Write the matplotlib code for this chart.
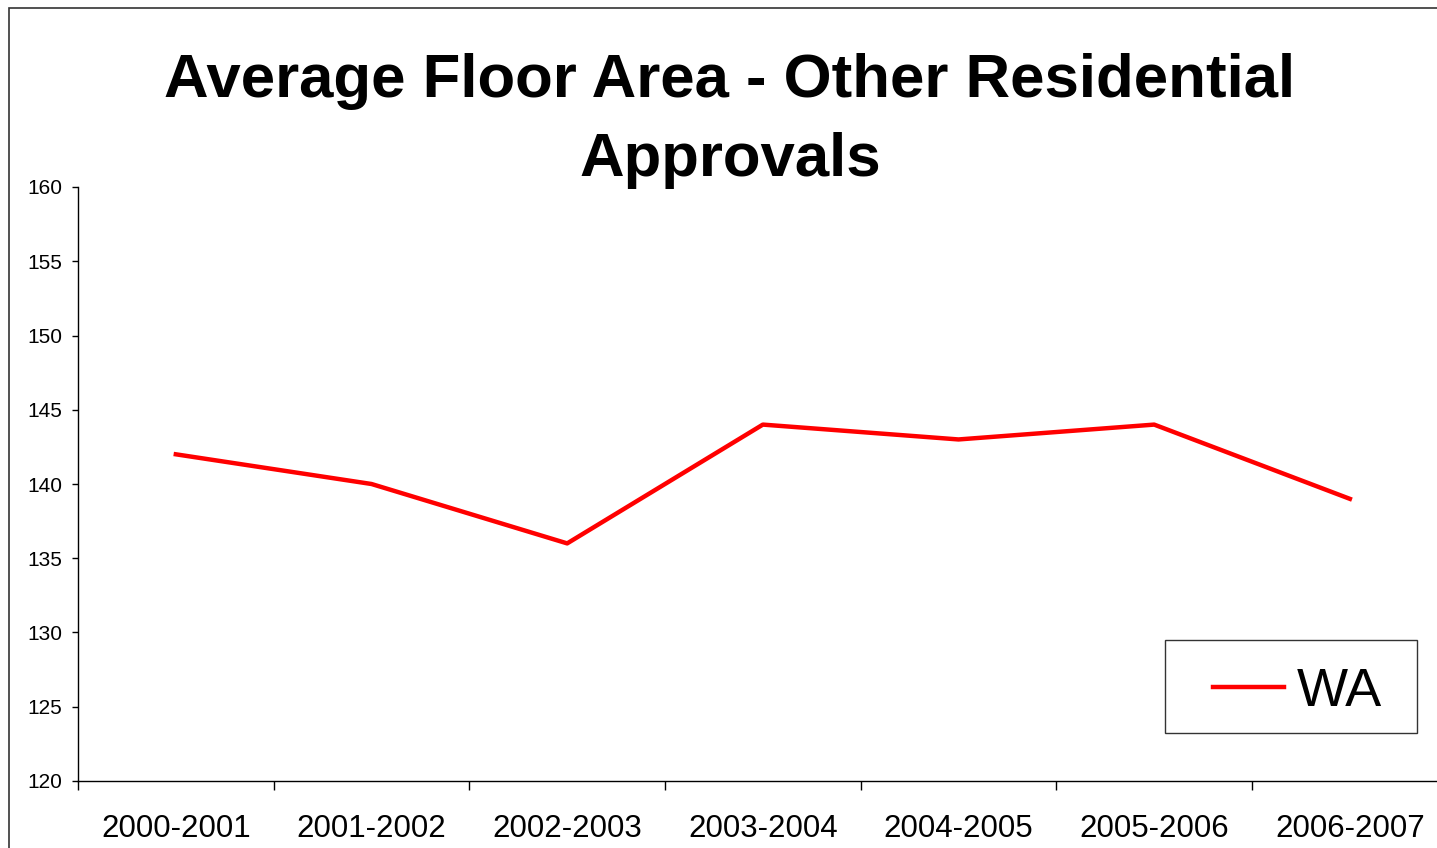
import matplotlib
matplotlib.use("Agg")
import matplotlib.pyplot as plt
from matplotlib.patches import Rectangle

plt.rcParams['font.family'] = ['Liberation Sans', 'DejaVu Sans']

# === 数据 ===
periods = ["2000-2001", "2001-2002", "2002-2003", "2003-2004",
           "2004-2005", "2005-2006", "2006-2007"]
wa_area = [142, 140, 136, 144, 143, 144, 139]
y_ticks = [120, 125, 130, 135, 140, 145, 150, 155, 160]

W, H = 1437, 848
fig = plt.figure(figsize=(W / 100, H / 100), dpi=100)

# outer chart border (right/bottom fall outside the image)
fig.patches.append(Rectangle((9 / W, -0.1), 1.2, 1 - 8 / H + 0.1,
                             transform=fig.transFigure, fill=False,
                             edgecolor='#333333', linewidth=1.2))

left, right = 78 / W, 1447.7 / W
bottom, top = 1 - 781 / H, 1 - 187 / H
ax = fig.add_axes([left, bottom, right - left, top - bottom])

x = range(len(periods))
ax.plot(x, wa_area, color='#ff0000', linewidth=3.2, label='WA')

ax.set_xlim(-0.5, len(periods) - 0.5)
ax.set_ylim(120, 160)
ax.set_yticks(y_ticks)
ax.set_yticklabels([str(v) for v in y_ticks], fontsize=15)
ax.set_xticks([i - 0.5 for i in range(len(periods) + 1)])
ax.set_xticklabels([])
ax.set_xticks(list(x), minor=True)
ax.set_xticklabels(periods, minor=True, fontsize=22.5)
ax.tick_params(axis='x', which='minor', length=0, pad=24)
ax.tick_params(axis='x', which='major', length=6.5, width=1, direction='out')
ax.tick_params(axis='y', length=4.3, width=1, direction='out', pad=7)

for s in ['top', 'right']:
    ax.spines[s].set_visible(False)
for s in ['left', 'bottom']:
    ax.spines[s].set_linewidth(1)

fig.text(0.508, 1 - 121 / H, "Average Floor Area - Other Residential\nApprovals",
         ha='center', va='center', fontsize=44.5, fontweight='bold',
         linespacing=1.5, transform=fig.transFigure)

# legend box
fig.patches.append(Rectangle((1165 / W, 1 - 733 / H), 252 / W, 93 / H,
                             transform=fig.transFigure, fill=False,
                             edgecolor='#333333', linewidth=1))
leg = ax.legend(loc='center left', bbox_to_anchor=(1213 / W, 1 - 692 / H),
                bbox_transform=fig.transFigure, fontsize=39, frameon=False,
                handlelength=1.31, handletextpad=0.24,
                borderpad=0, borderaxespad=0)

fig.savefig("out.png", dpi=100)
